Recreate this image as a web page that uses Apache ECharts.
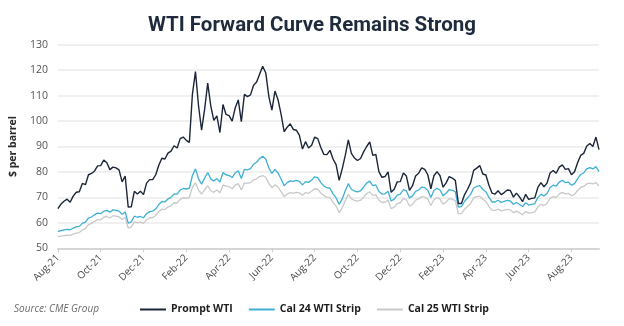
<!DOCTYPE html>
<html>
<head>
<meta charset="utf-8">
<script src="https://cdn.jsdelivr.net/npm/echarts@6/dist/echarts.min.js"></script>
<style>
  html, body { margin: 0; padding: 0; background: #ffffff; }
  #chart { width: 624px; height: 326px; }
</style>
</head>
<body>
<div id="chart"></div>
<script>
// Sampled roughly every third trading day, Aug 2021 to early Oct 2023 ($/bbl)
const promptWTI = [
  65.6, 67.4, 68.5, 69.3, 68.1, 70.5, 72.0, 72.2, 75.5, 75.0,
  78.9, 79.4, 80.4, 82.4, 82.5, 84.7, 83.6, 80.9, 81.9, 81.6,
  80.8, 76.1, 78.4, 66.2, 66.3, 72.4, 71.3, 72.4, 71.1, 75.6,
  77.0, 77.0, 78.9, 82.6, 85.4, 85.1, 87.4, 88.2, 90.3, 89.4,
  93.1, 93.7, 92.4, 91.6, 110.6, 119.4, 106.0, 96.4, 104.7, 114.9,
  106.0, 100.3, 102.0, 95.5, 106.5, 102.6, 102.1, 100.0, 105.2, 108.3,
  99.8, 110.5, 109.6, 110.3, 114.1, 115.3, 118.5, 121.5, 118.9, 109.6,
  104.3, 111.8, 108.4, 102.7, 95.8, 97.6, 98.9, 96.7, 96.4, 94.4,
  89.0, 91.9, 89.4, 90.5, 93.7, 93.1, 89.6, 86.9, 86.8, 88.5,
  85.1, 82.9, 76.7, 81.2, 86.5, 92.6, 87.3, 85.5, 84.5, 85.3,
  87.9, 90.0, 91.8, 86.5, 86.9, 80.1, 77.9, 78.2, 80.0, 72.0,
  73.2, 76.1, 76.2, 79.6, 78.4, 72.8, 74.6, 78.4, 79.5, 81.6,
  81.0, 78.9, 73.4, 78.5, 80.1, 78.5, 74.0, 75.7, 78.2, 77.6,
  76.7, 67.6, 67.6, 71.0, 73.2, 75.7, 80.6, 81.5, 82.5, 79.2,
  78.8, 74.8, 71.7, 71.3, 72.6, 71.1, 71.9, 72.9, 72.7, 70.1,
  71.7, 70.2, 68.3, 71.2, 69.2, 69.6, 69.8, 73.9, 75.8, 74.2,
  75.6, 79.6, 80.6, 79.5, 81.9, 82.8, 81.0, 81.3, 78.9, 80.1,
  83.6, 86.5, 87.3, 90.2, 91.2, 90.0, 93.7, 88.8
];

const cal24Strip = [
  56.6, 56.9, 57.2, 57.4, 57.3, 57.9, 58.4, 58.6, 59.8, 60.3,
  61.9, 62.3, 63.2, 63.8, 63.6, 64.6, 64.9, 64.2, 65.1, 64.9,
  64.6, 63.4, 64.3, 59.9, 60.4, 62.6, 62.2, 62.5, 62.0, 63.6,
  64.4, 64.6, 65.5, 67.2, 68.4, 68.2, 69.4, 70.0, 71.4, 71.3,
  72.9, 73.5, 73.3, 73.6, 78.6, 81.2, 77.3, 75.2, 77.6, 79.8,
  77.3, 76.4, 77.4, 76.0, 79.8, 78.9, 78.6, 77.8, 79.6, 80.5,
  77.4, 81.0, 80.8, 81.3, 83.0, 83.8, 85.3, 86.2, 85.0, 81.6,
  79.4, 81.0, 79.6, 77.2, 74.6, 75.8, 76.5, 76.3, 76.7, 76.3,
  74.9, 76.2, 75.9, 76.8, 78.1, 77.8, 75.8, 74.5, 73.8, 73.6,
  71.4, 69.8, 67.2, 69.4, 72.6, 75.4, 73.2, 72.5, 72.2, 72.6,
  74.0, 75.6, 76.4, 74.6, 74.9, 72.3, 71.3, 71.4, 72.4, 68.6,
  69.3, 70.9, 71.3, 73.1, 72.6, 69.8, 70.6, 72.4, 72.9, 74.0,
  73.8, 72.8, 70.0, 72.7, 73.6, 72.9, 70.6, 71.6, 73.1, 72.8,
  72.2, 66.2, 66.4, 68.4, 69.8, 71.2, 73.7, 74.3, 74.6, 73.1,
  72.2, 70.0, 68.2, 68.2, 68.9, 68.0, 68.4, 68.8, 68.6, 67.3,
  68.0, 67.2, 66.4, 67.9, 67.0, 67.3, 67.6, 69.9, 71.2, 70.6,
  71.5, 73.9, 74.8, 74.4, 76.0, 76.7, 75.8, 76.0, 74.8, 75.4,
  77.3, 79.0, 79.6, 81.2, 81.7, 81.2, 82.1, 80.1
];

const cal25Strip = [
  54.6, 54.8, 55.0, 55.2, 55.1, 55.6, 56.0, 56.2, 57.2, 57.8,
  59.3, 59.8, 60.6, 61.3, 61.2, 62.2, 62.5, 61.9, 62.8, 62.6,
  62.4, 61.3, 62.1, 57.9, 58.4, 60.4, 60.0, 60.3, 59.8, 61.2,
  61.9, 62.1, 62.9, 64.4, 65.4, 65.2, 66.2, 66.7, 67.9, 67.8,
  69.2, 69.8, 69.7, 70.0, 74.0, 75.8, 72.9, 71.3, 73.0, 74.6,
  72.6, 72.0, 72.9, 71.8, 74.9, 74.4, 74.2, 73.4, 74.8, 75.4,
  72.9, 75.7, 75.5, 75.8, 76.9, 77.3, 78.2, 78.6, 77.9, 75.5,
  73.8, 75.0, 74.0, 72.3, 70.3, 71.3, 71.9, 71.7, 72.0, 71.8,
  70.8, 71.9, 71.6, 72.4, 73.4, 73.2, 71.7, 70.7, 70.1, 70.0,
  68.0, 66.6, 64.0, 65.9, 68.7, 71.2, 69.4, 68.8, 68.5, 68.9,
  70.1, 71.5, 72.2, 70.8, 71.0, 68.9, 68.0, 68.1, 69.0, 65.6,
  66.2, 67.6, 67.9, 69.5, 69.1, 66.6, 67.3, 68.9, 69.4, 70.3,
  70.1, 69.3, 66.8, 69.1, 69.9, 69.3, 67.3, 68.2, 69.5, 69.2,
  68.7, 63.5, 63.7, 65.3, 66.4, 67.6, 69.8, 70.3, 70.5, 69.2,
  68.5, 66.5, 65.0, 64.9, 65.4, 64.7, 65.0, 65.3, 65.1, 64.0,
  64.6, 63.9, 63.2, 64.4, 63.8, 64.0, 64.3, 66.2, 67.3, 66.8,
  67.6, 69.6, 70.3, 70.0, 71.4, 72.0, 71.4, 71.6, 70.6, 71.2,
  72.7, 73.9, 74.3, 75.3, 75.6, 75.3, 75.8, 74.5
];

// Axis labels, one every 14 samples (about two months)
const tickLabels = [
  'Aug-21', 'Oct-21', 'Dec-21', 'Feb-22', 'Apr-22', 'Jun-22', 'Aug-22',
  'Oct-22', 'Dec-22', 'Feb-23', 'Apr-23', 'Jun-23', 'Aug-23'
];
const tickStep = 14;

const seriesNames = ['Prompt WTI', 'Cal 24 WTI Strip', 'Cal 25 WTI Strip'];
const seriesColors = ['#1b2638', '#3fb0d3', '#c9c9c9'];
const seriesValues = [promptWTI, cal24Strip, cal25Strip];

const tickPositions = tickLabels.map((_, k) => k * tickStep);
const FONT = '"Open Sans", Lato, sans-serif';

const chart = echarts.init(document.getElementById('chart'), null, { renderer: 'canvas' });

chart.setOption({
  animation: false,
  backgroundColor: '#ffffff',
  textStyle: { fontFamily: FONT },
  title: {
    text: 'WTI Forward Curve Remains Strong',
    left: 'center',
    top: 10,
    textStyle: { fontFamily: 'Roboto, "Open Sans", sans-serif', fontSize: 20.5, fontWeight: 'bold', color: '#1f2b3d' }
  },
  grid: { left: 54, right: 25, top: 44.7, bottom: 77.7, containLabel: false },
  xAxis: {
    type: 'value',
    min: 0,
    max: promptWTI.length - 1,
    axisLine: { show: true, lineStyle: { color: '#d6d6d6', width: 2 } },
    axisTick: { show: true, customValues: tickPositions, length: 4, lineStyle: { color: '#cfcfcf', width: 1 } },
    splitLine: { show: false },
    axisLabel: {
      customValues: tickPositions,
      rotate: 45,
      margin: 8,
      fontSize: 10,
      color: '#4a4a4a',
      fontFamily: FONT,
      formatter: v => tickLabels[Math.round(v / tickStep)] || ''
    }
  },
  yAxis: {
    type: 'value',
    min: 50,
    max: 130,
    interval: 10,
    name: '$ per barrel',
    nameLocation: 'middle',
    nameGap: 36,
    nameTextStyle: { fontFamily: FONT, fontSize: 10.5, fontWeight: 'bold', color: '#2a2a2a' },
    axisLine: { show: false },
    axisTick: { show: false },
    axisLabel: { fontSize: 10.5, color: '#555555', margin: 10, fontFamily: FONT },
    splitLine: { lineStyle: { color: '#ebebeb', width: 1.5 } }
  },
  legend: {
    data: seriesNames,
    left: 140,
    top: 304,
    padding: 0,
    itemWidth: 26,
    itemHeight: 2,
    itemGap: 16,
    icon: 'rect',
    textStyle: { fontFamily: FONT, fontSize: 10.5, fontWeight: 'bold', color: '#1d1d1d', padding: [0, 0, 0, 0] }
  },
  graphic: [{
    type: 'text',
    left: 14,
    top: 304,
    style: { text: 'Source: CME Group', font: 'italic 10px ' + FONT, fill: '#6b6b6b' }
  }],
  series: seriesValues.map((vals, k) => ({
    name: seriesNames[k],
    type: 'line',
    data: vals.map((v, i) => [i, v]),
    showSymbol: false,
    symbol: 'none',
    z: 10 - k,
    lineStyle: { color: seriesColors[k], width: k === 0 ? 1.4 : 1.3 },
    itemStyle: { color: seriesColors[k] }
  }))
});
</script>
</body>
</html>
